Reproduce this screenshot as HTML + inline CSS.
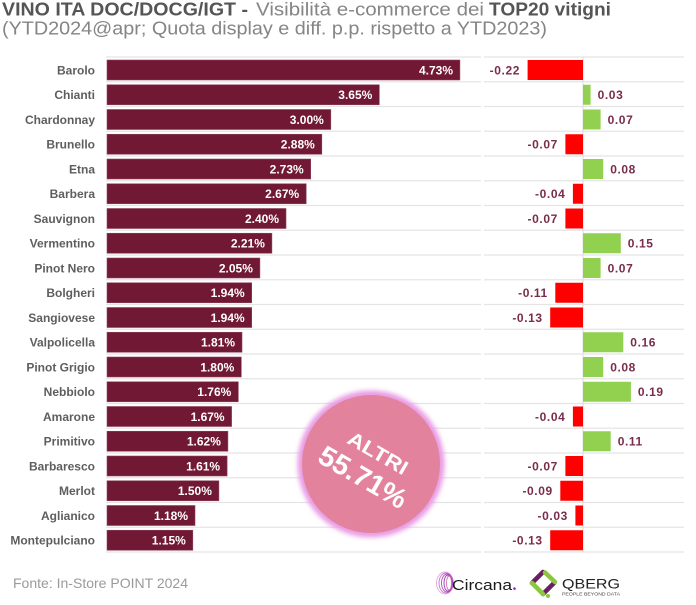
<!DOCTYPE html>
<html>
<head>
<meta charset="utf-8">
<style>
  html,body{margin:0;padding:0;background:#fff;}
  svg{display:block;}
  text{font-family:"Liberation Sans",Arial,sans-serif;}
</style>
</head>
<body>
<svg width="696" height="605" viewBox="0 0 696 605" xmlns="http://www.w3.org/2000/svg">
  <defs>
    <filter id="glow" x="-30%" y="-30%" width="160%" height="160%">
      <feGaussianBlur stdDeviation="2.5"/>
    </filter>
  </defs>
  <rect width="696" height="605" fill="#fff"/>

  <!-- Title -->
  <text x="2" y="15.5" font-size="18" font-weight="bold" fill="#555" textLength="246" lengthAdjust="spacingAndGlyphs">VINO ITA DOC/DOCG/IGT -</text>
  <text x="256" y="15.5" font-size="18" fill="#858585" textLength="228" lengthAdjust="spacingAndGlyphs">Visibilità e-commerce dei</text>
  <text x="489" y="15.5" font-size="18" font-weight="bold" fill="#555" textLength="122" lengthAdjust="spacingAndGlyphs">TOP20 vitigni</text>
  <text x="2" y="34.5" font-size="18" fill="#858585" textLength="545" lengthAdjust="spacingAndGlyphs">(YTD2024@apr; Quota display e diff. p.p. rispetto a YTD2023)</text>

  <!-- Gridlines -->
  <g stroke="#e4e4e4" stroke-width="1.2">
    <line x1="106" y1="57" x2="481" y2="57"/><line x1="484" y1="57" x2="684" y2="57"/>
    <line x1="106" y1="81.75" x2="481" y2="81.75"/><line x1="484" y1="81.75" x2="684" y2="81.75"/>
    <line x1="106" y1="106.5" x2="481" y2="106.5"/><line x1="484" y1="106.5" x2="684" y2="106.5"/>
    <line x1="106" y1="131.25" x2="481" y2="131.25"/><line x1="484" y1="131.25" x2="684" y2="131.25"/>
    <line x1="106" y1="156" x2="481" y2="156"/><line x1="484" y1="156" x2="684" y2="156"/>
    <line x1="106" y1="180.75" x2="481" y2="180.75"/><line x1="484" y1="180.75" x2="684" y2="180.75"/>
    <line x1="106" y1="205.5" x2="481" y2="205.5"/><line x1="484" y1="205.5" x2="684" y2="205.5"/>
    <line x1="106" y1="230.25" x2="481" y2="230.25"/><line x1="484" y1="230.25" x2="684" y2="230.25"/>
    <line x1="106" y1="255" x2="481" y2="255"/><line x1="484" y1="255" x2="684" y2="255"/>
    <line x1="106" y1="279.75" x2="481" y2="279.75"/><line x1="484" y1="279.75" x2="684" y2="279.75"/>
    <line x1="106" y1="304.5" x2="481" y2="304.5"/><line x1="484" y1="304.5" x2="684" y2="304.5"/>
    <line x1="106" y1="329.25" x2="481" y2="329.25"/><line x1="484" y1="329.25" x2="684" y2="329.25"/>
    <line x1="106" y1="354" x2="481" y2="354"/><line x1="484" y1="354" x2="684" y2="354"/>
    <line x1="106" y1="378.75" x2="481" y2="378.75"/><line x1="484" y1="378.75" x2="684" y2="378.75"/>
    <line x1="106" y1="403.5" x2="481" y2="403.5"/><line x1="484" y1="403.5" x2="684" y2="403.5"/>
    <line x1="106" y1="428.25" x2="481" y2="428.25"/><line x1="484" y1="428.25" x2="684" y2="428.25"/>
    <line x1="106" y1="453" x2="481" y2="453"/><line x1="484" y1="453" x2="684" y2="453"/>
    <line x1="106" y1="477.75" x2="481" y2="477.75"/><line x1="484" y1="477.75" x2="684" y2="477.75"/>
    <line x1="106" y1="502.5" x2="481" y2="502.5"/><line x1="484" y1="502.5" x2="684" y2="502.5"/>
    <line x1="106" y1="527.25" x2="481" y2="527.25"/><line x1="484" y1="527.25" x2="684" y2="527.25"/>
    <line x1="106" y1="552" x2="481" y2="552"/><line x1="484" y1="552" x2="684" y2="552"/>
  </g>
  <line x1="583" y1="57" x2="583" y2="552" stroke="#dcdcdc" stroke-width="1"/>

  <!-- Row labels -->
  <g font-size="12" font-weight="bold" fill="#5e5e5e" text-anchor="end">
    <text x="95" y="74.3">Barolo</text>
    <text x="95" y="99.05">Chianti</text>
    <text x="95" y="123.8">Chardonnay</text>
    <text x="95" y="148.55">Brunello</text>
    <text x="95" y="173.3">Etna</text>
    <text x="95" y="198.05">Barbera</text>
    <text x="95" y="222.8">Sauvignon</text>
    <text x="95" y="247.55">Vermentino</text>
    <text x="95" y="272.3">Pinot Nero</text>
    <text x="95" y="297.05">Bolgheri</text>
    <text x="95" y="321.8">Sangiovese</text>
    <text x="95" y="346.55">Valpolicella</text>
    <text x="95" y="371.3">Pinot Grigio</text>
    <text x="95" y="396.05">Nebbiolo</text>
    <text x="95" y="420.8">Amarone</text>
    <text x="95" y="445.55">Primitivo</text>
    <text x="95" y="470.3">Barbaresco</text>
    <text x="95" y="495.05">Merlot</text>
    <text x="95" y="519.8">Aglianico</text>
    <text x="95" y="544.55">Montepulciano</text>
  </g>

  <!-- Main bars -->
  <g fill="#711934" stroke="#8e4460" stroke-width="0.6">
    <rect x="107" y="60" width="352.9" height="20"/>
    <rect x="107" y="84.75" width="272.3" height="20"/>
    <rect x="107" y="109.5" width="223.8" height="20"/>
    <rect x="107" y="134.25" width="214.8" height="20"/>
    <rect x="107" y="159" width="203.7" height="20"/>
    <rect x="107" y="183.75" width="199.2" height="20"/>
    <rect x="107" y="208.5" width="179" height="20"/>
    <rect x="107" y="233.25" width="164.9" height="20"/>
    <rect x="107" y="258" width="152.9" height="20"/>
    <rect x="107" y="282.75" width="144.7" height="20"/>
    <rect x="107" y="307.5" width="144.7" height="20"/>
    <rect x="107" y="332.25" width="135" height="20"/>
    <rect x="107" y="357" width="134.3" height="20"/>
    <rect x="107" y="381.75" width="131.3" height="20"/>
    <rect x="107" y="406.5" width="124.6" height="20"/>
    <rect x="107" y="431.25" width="120.9" height="20"/>
    <rect x="107" y="456" width="120.1" height="20"/>
    <rect x="107" y="480.75" width="111.9" height="20"/>
    <rect x="107" y="505.5" width="88" height="20"/>
    <rect x="107" y="530.25" width="85.8" height="20"/>
  </g>

  <!-- Value labels -->
  <g font-size="12" font-weight="bold" fill="#fff" text-anchor="end">
    <text x="453" y="74.3">4.73%</text>
    <text x="372.3" y="99.05">3.65%</text>
    <text x="323.8" y="123.8">3.00%</text>
    <text x="314.8" y="148.55">2.88%</text>
    <text x="303.7" y="173.3">2.73%</text>
    <text x="299.2" y="198.05">2.67%</text>
    <text x="279" y="222.8">2.40%</text>
    <text x="264.9" y="247.55">2.21%</text>
    <text x="252.9" y="272.3">2.05%</text>
    <text x="244.7" y="297.05">1.94%</text>
    <text x="244.7" y="321.8">1.94%</text>
    <text x="235" y="346.55">1.81%</text>
    <text x="234.3" y="371.3">1.80%</text>
    <text x="231.3" y="396.05">1.76%</text>
    <text x="224.6" y="420.8">1.67%</text>
    <text x="220.9" y="445.55">1.62%</text>
    <text x="220.1" y="470.3">1.61%</text>
    <text x="211.9" y="495.05">1.50%</text>
    <text x="188" y="519.8">1.18%</text>
    <text x="185.8" y="544.55">1.15%</text>
  </g>

  <!-- Delta bars -->
  <g fill="#ff0000">
    <rect x="527.6" y="60" width="55.4" height="20"/>
    <rect x="565.4" y="134.25" width="17.6" height="20"/>
    <rect x="572.9" y="183.75" width="10.1" height="20"/>
    <rect x="565.4" y="208.5" width="17.6" height="20"/>
    <rect x="555.3" y="282.75" width="27.7" height="20"/>
    <rect x="550.2" y="307.5" width="32.8" height="20"/>
    <rect x="572.9" y="406.5" width="10.1" height="20"/>
    <rect x="565.4" y="456" width="17.6" height="20"/>
    <rect x="560.3" y="480.75" width="22.7" height="20"/>
    <rect x="575.4" y="505.5" width="7.6" height="20"/>
    <rect x="550.2" y="530.25" width="32.8" height="20"/>
  </g>
  <g fill="#92d050">
    <rect x="583" y="84.75" width="7.6" height="20"/>
    <rect x="583" y="109.5" width="17.6" height="20"/>
    <rect x="583" y="159" width="20.2" height="20"/>
    <rect x="583" y="233.25" width="37.8" height="20"/>
    <rect x="583" y="258" width="17.6" height="20"/>
    <rect x="583" y="332.25" width="40.3" height="20"/>
    <rect x="583" y="357" width="20.2" height="20"/>
    <rect x="583" y="381.75" width="47.9" height="20"/>
    <rect x="583" y="431.25" width="27.7" height="20"/>
  </g>

  <!-- Delta labels -->
  <g font-size="12" font-weight="bold" fill="#7a2c4b" letter-spacing="0.6">
    <g text-anchor="end">
      <text x="520" y="74.3">-0.22</text>
      <text x="557.9" y="148.55">-0.07</text>
      <text x="565.4" y="198.05">-0.04</text>
      <text x="557.9" y="222.8">-0.07</text>
      <text x="547.8" y="297.05">-0.11</text>
      <text x="542.7" y="321.8">-0.13</text>
      <text x="565.4" y="420.8">-0.04</text>
      <text x="557.9" y="470.3">-0.07</text>
      <text x="552.8" y="495.05">-0.09</text>
      <text x="567.9" y="519.8">-0.03</text>
      <text x="542.7" y="544.55">-0.13</text>
    </g>
    <text x="597.6" y="99.05">0.03</text>
    <text x="607.6" y="123.8">0.07</text>
    <text x="610.2" y="173.3">0.08</text>
    <text x="627.8" y="247.55">0.15</text>
    <text x="607.6" y="272.3">0.07</text>
    <text x="630.3" y="346.55">0.16</text>
    <text x="610.2" y="371.3">0.08</text>
    <text x="637.9" y="396.05">0.19</text>
    <text x="617.7" y="445.55">0.11</text>
  </g>

  <!-- Altri circle -->
  <circle cx="371" cy="464" r="73.5" fill="#e89be4" filter="url(#glow)"/>
  <circle cx="371" cy="464" r="69" fill="#e3829c"/>
  <g transform="translate(371,464) rotate(30)" fill="#fff" font-weight="bold" text-anchor="middle">
    <text x="0.5" y="-6" font-size="20" textLength="66" lengthAdjust="spacingAndGlyphs">ALTRI</text>
    <text x="-0.4" y="25" font-size="28" textLength="97" lengthAdjust="spacingAndGlyphs">55.71%</text>
  </g>

  <!-- Footer -->
  <text x="13" y="588" font-size="14" fill="#9a9a9a" textLength="175" lengthAdjust="spacingAndGlyphs">Fonte: In-Store POINT 2024</text>

  <!-- Circana logo -->
  <g fill="none" stroke-width="0.9">
    <ellipse cx="445" cy="583" rx="8.5" ry="11" stroke="#e9a6e0"/>
    <ellipse cx="446" cy="583" rx="7" ry="10" stroke="#c873cf"/>
    <ellipse cx="447" cy="583" rx="5.5" ry="9" stroke="#a64fc0"/>
    <ellipse cx="448" cy="583" rx="4" ry="8" stroke="#8b3bb0"/>
    <ellipse cx="449" cy="583" rx="2.5" ry="7" stroke="#d66fb0"/>
  </g>
  <text x="452" y="590" font-size="15" fill="#1a1a1a" textLength="60" lengthAdjust="spacingAndGlyphs">Circana</text>
  <circle cx="514.5" cy="588.6" r="1.3" fill="#8a2be2"/>

  <!-- QBERG logo -->
  <g stroke-linecap="round" stroke-width="4.5">
    <line x1="532" y1="583" x2="543" y2="572" stroke="#6b1f63"/>
    <line x1="543" y1="594" x2="554" y2="583" stroke="#6b1f63"/>
    <line x1="532" y1="583" x2="543" y2="594" stroke="#8cc63f"/>
    <line x1="545" y1="572.5" x2="555" y2="582" stroke="#8cc63f"/>
  </g>
  <circle cx="548" cy="596" r="2" fill="#8cc63f"/>
  <text x="562" y="588.5" font-size="14" fill="#222" textLength="58" lengthAdjust="spacingAndGlyphs">QBERG</text>
  <text x="562" y="595.5" font-size="4.5" fill="#444" textLength="58" lengthAdjust="spacingAndGlyphs">PEOPLE BEYOND DATA</text>
</svg>
</body>
</html>
